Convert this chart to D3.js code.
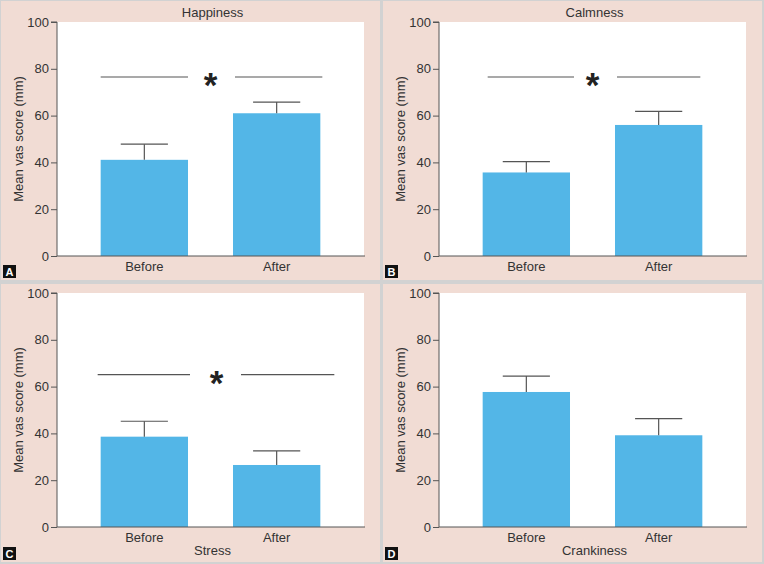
<!DOCTYPE html>
<html><head><meta charset="utf-8">
<script src="https://cdn.jsdelivr.net/npm/d3@7"></script>
<style>
html,body{margin:0;padding:0;background:#d2d2d2;}
svg{display:block;font-family:"Liberation Sans",Arial,sans-serif;}
</style></head>
<body>
<svg id="chart" width="764" height="564"></svg>
<script>
// ---- data ----
const categories = ["Before", "After"];
const panelLetters = ["A", "B", "C", "D"];
const panelNames = ["Happiness", "Calmness", "Stress", "Crankiness"];
const meanValues = [
  [41.1, 61.0],   // Happiness
  [35.7, 56.0],   // Calmness
  [38.6, 26.5],   // Stress
  [57.7, 39.2]    // Crankiness
];
const errorValues = [
  [6.7, 4.8],
  [4.6, 5.8],
  [6.6, 6.0],
  [6.8, 7.1]
];
const significance = [76.5, 76.5, 65.1, null]; // y level of significance lines (null = none)
const yTicks = [0, 20, 40, 60, 80, 100];
const yLabel = "Mean vas score (mm)";

// ---- layout ----
const svg = d3.select("#chart");
const panelW = 379, panelH = [279, 278];
const panelX = [1, 383], panelY = [1, 284];
const titleTop = [true, true, false, false];

const y = d3.scaleLinear().domain([0, 100]);
const x = d3.scaleBand().domain(categories).paddingInner(0.34).paddingOuter(0.33);

const axisColor = "#555";
const barColor = "#53b6e7";
const pink = "#f1dcd4";

// sig line nudges per panel [left line start/end, right line start/end]
const sigNudge = [[0, 0, 2, 2], [5, 4, 2, -2], [-3, 2, 8, 14], [0, 0, 0, 0]];

panelNames.forEach((name, i) => {
  const col = i % 2, row = Math.floor(i / 2);
  const g = svg.append("g").attr("transform", `translate(${panelX[col]},${panelY[row]})`);
  const ph = panelH[row];
  g.append("rect").attr("width", panelW).attr("height", ph).attr("fill", pink);

  const top = titleTop[i] ? 21 : 9;
  const bottom = top + 234;
  const left = 56, right = 363;
  y.range([bottom, top]);
  x.range([left, right]);

  // white plot area
  g.append("rect").attr("x", left).attr("y", top).attr("width", right - left).attr("height", bottom - top).attr("fill", "#fff");

  // bars
  g.selectAll("rect.bar").data(categories).enter().append("rect")
    .attr("class", "bar")
    .attr("x", d => x(d)).attr("width", x.bandwidth())
    .attr("y", (d, j) => y(meanValues[i][j]))
    .attr("height", (d, j) => y(0) - y(meanValues[i][j]))
    .attr("fill", barColor);

  // error bars (upper only)
  const cap = x.bandwidth() * 0.27;
  categories.forEach((c, j) => {
    const cx = x(c) + x.bandwidth() / 2;
    const y0 = y(meanValues[i][j]);
    const y1 = y(meanValues[i][j] + errorValues[i][j]);
    g.append("line").attr("x1", cx).attr("x2", cx).attr("y1", y0).attr("y2", y1)
      .attr("stroke", axisColor).attr("stroke-width", 1.2);
    g.append("line").attr("x1", cx - cap).attr("x2", cx + cap).attr("y1", y1).attr("y2", y1)
      .attr("stroke", axisColor).attr("stroke-width", 1.2);
  });

  // significance
  if (significance[i] !== null) {
    const sy = y(significance[i]);
    const n = sigNudge[i];
    g.append("line").attr("x1", x(categories[0]) + n[0]).attr("x2", x(categories[0]) + x.bandwidth() + n[1])
      .attr("y1", sy).attr("y2", sy).attr("stroke", axisColor).attr("stroke-width", 1.2);
    g.append("line").attr("x1", x(categories[1]) + n[2]).attr("x2", x(categories[1]) + x.bandwidth() + n[3])
      .attr("y1", sy).attr("y2", sy).attr("stroke", axisColor).attr("stroke-width", 1.2);
    const midX = (x(categories[0]) + x.bandwidth() + x(categories[1])) / 2 + (i === 2 ? 6 : 0);
    g.append("text").attr("x", midX).attr("y", sy + 20).attr("text-anchor", "middle")
      .attr("font-size", 35).attr("font-weight", "bold").attr("fill", "#222").text("*");
  }

  // y axis
  const ya = g.append("g").attr("transform", `translate(${left},0)`)
    .call(d3.axisLeft(y).tickValues(yTicks).tickSize(6).tickPadding(2));
  ya.select(".domain").attr("stroke", axisColor).attr("d", `M-6,${top}H0V${bottom}`);
  ya.selectAll(".tick line").attr("stroke", axisColor);
  ya.selectAll(".tick text").attr("fill", "#333").attr("font-size", 13)
    .attr("font-family", '"Liberation Sans",Arial,sans-serif');

  // x axis
  const xa = g.append("g").attr("transform", `translate(0,${bottom})`)
    .call(d3.axisBottom(x).tickSize(0).tickPadding(6));
  xa.select(".domain").attr("stroke", axisColor).attr("d", `M${left},0H${right + 1}`);
  xa.selectAll(".tick text").attr("fill", "#333").attr("font-size", 13)
    .attr("font-family", '"Liberation Sans",Arial,sans-serif');

  // y label
  g.append("text").attr("transform", `translate(22,${(top + bottom) / 2}) rotate(-90)`)
    .attr("text-anchor", "middle").attr("font-size", 13).attr("fill", "#333").text(yLabel);

  // title
  if (titleTop[i]) {
    g.append("text").attr("x", (left + right) / 2 + 2).attr("y", 16).attr("text-anchor", "middle")
      .attr("font-size", 13).attr("fill", "#333").text(name);
  } else {
    g.append("text").attr("x", (left + right) / 2 + 2).attr("y", bottom + 28).attr("text-anchor", "middle")
      .attr("font-size", 13).attr("fill", "#333").text(name);
  }

  // panel letter
  g.append("rect").attr("x", 2).attr("y", ph - 15).attr("width", 13).attr("height", 13).attr("fill", "#111");
  g.append("text").attr("x", 8.5).attr("y", ph - 4).attr("text-anchor", "middle")
    .attr("font-size", 11).attr("font-weight", "bold").attr("fill", "#fff").text(panelLetters[i]);
});
</script>
</body></html>
